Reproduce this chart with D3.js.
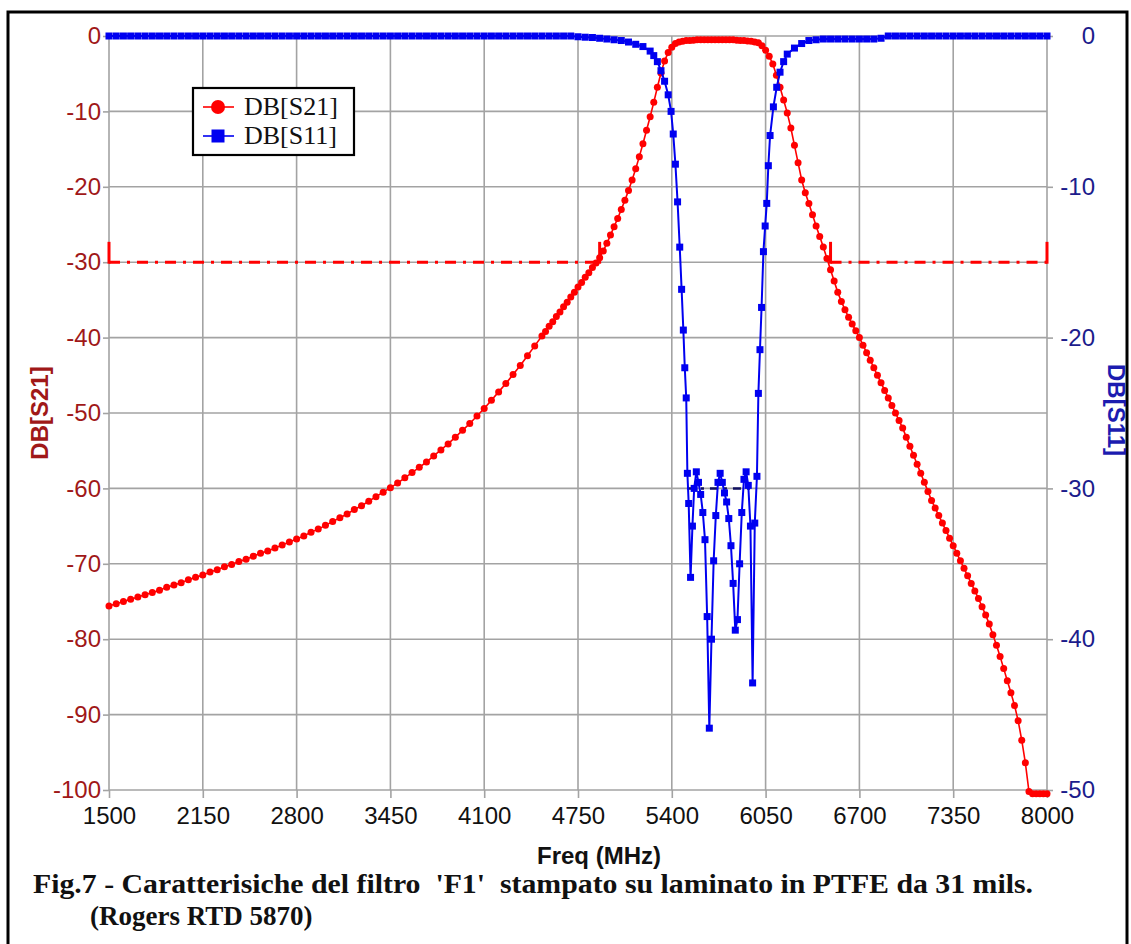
<!DOCTYPE html>
<html><head><meta charset="utf-8">
<script src="https://cdn.jsdelivr.net/npm/d3@7"></script>
<style>body{margin:0;background:#fff} svg{display:block}</style>
</head><body><svg id="c" width="1131" height="944"></svg>
<script>
// ---------- data ----------
const freqTicks = [1500,2150,2800,3450,4100,4750,5400,6050,6700,7350,8000];
const s21Ticks = [0,-10,-20,-30,-40,-50,-60,-70,-80,-90,-100];
const s11Ticks = [0,-10,-20,-30,-40,-50];

// S21 sweep: 1500-4500 every 50 MHz, 4525-8000 every 25 MHz
const s21Freq = d3.range(1500, 4501, 50).concat(d3.range(4525, 8001, 25));
const s21Db = [
 -75.6,-75.3,-75.0,-74.7,-74.4,-74.1,-73.8,-73.5,-73.1,-72.8,
 -72.5,-72.1,-71.8,-71.5,-71.1,-70.8,-70.4,-70.1,-69.7,-69.4,
 -69.0,-68.6,-68.3,-67.9,-67.5,-67.1,-66.7,-66.3,-65.8,-65.4,
 -64.9,-64.4,-63.9,-63.4,-62.8,-62.3,-61.7,-61.1,-60.5,-59.9,
 -59.3,-58.6,-57.9,-57.2,-56.5,-55.7,-54.9,-54.1,-53.2,-52.3,
 -51.4,-50.4,-49.4,-48.3,-47.2,-46.1,-44.9,-43.7,-42.4,-41.1,
 -39.8,
 -39.2,-38.5,-37.9,-37.2,-36.6,-35.9,-35.3,-34.6,-34.0,-33.3,
 -32.7,-32.0,-31.4,-30.7,-30.1,-29.4,-28.5,-27.5,-26.4,-25.3,
 -24.2,-23.0,-21.8,-20.5,-19.1,-17.6,-16.0,-14.3,-12.5,-10.7,
 -8.8,-6.8,-4.9,-3.3,-2.2,-1.5,-1.0,-0.8,-0.7,-0.6,
 -0.6,-0.55,-0.5,-0.5,-0.5,-0.5,-0.5,-0.5,-0.5,-0.5,
 -0.5,-0.5,-0.5,-0.55,-0.6,-0.6,-0.65,-0.7,-0.8,-0.9,
 -1.3,-1.9,-2.7,-3.7,-5.2,-6.8,-8.5,-10.2,-12.2,-14.5,
 -16.8,-19.1,-20.8,-22.2,-23.7,-25.2,-26.6,-28.0,-29.5,-31.0,
 -32.5,-34.0,-35.2,-36.3,-37.3,-38.2,-39.1,-40.0,-41.0,-42.0,
 -43.0,-44.0,-45.0,-46.0,-47.0,-48.0,-49.0,-50.0,-51.0,-52.0,
 -53.2,-54.4,-55.6,-56.8,-58.0,-59.2,-60.4,-61.6,-62.6,-63.6,
 -64.6,-65.6,-66.6,-67.6,-68.6,-69.6,-70.6,-71.6,-72.6,-73.6,
 -74.6,-75.7,-76.8,-78.0,-79.4,-80.8,-82.3,-83.9,-85.5,-87.1,
 -88.8,-90.8,-93.4,-96.4,-100.2,-100.5,-100.5,-100.5,-100.5,-100.5
];

// S11 sweep (adaptive near the passband)
const s11Freq = d3.range(1500, 4701, 50).concat([
 4750,4800,4850,4900,4950,5000,5050,5100,5150,5200,
 5250,5275,5300,5325,5350,5375,5395,5410,5425,5440,
 5455,5468,5480,5490,5500,5508,5517,5530,5543,5555,
 5570,5585,5600,5615,5630,5645,5660,5675,5690,5705,
 5720,5735,5750,5765,5780,5795,5810,5825,5840,5855,
 5870,5885,5900,5915,5930,5945,5960,5975,5990,6000,
 6011,6022,6035,6047,6058,6069,6081,6104,6127,6150,
 6175,6200,6250,6300,6350
]).concat(d3.range(6400, 8001, 50));
const s11Db = [
 0,0,0,0,0,0,0,0,0,0,0,0,0,
 0,0,0,0,0,0,0,0,0,0,0,0,0,
 0,0,0,0,0,0,0,0,0,0,0,0,0,
 0,0,0,0,0,0,0,0,0,0,0,0,0,
 0,0,0,0,0,0,0,0,0,0,0,0,0,
 -0.05,-0.08,-0.1,-0.15,-0.2,-0.25,-0.3,-0.4,-0.55,-0.7,
 -1.0,-1.3,-1.7,-2.3,-3.0,-3.9,-5.0,-6.5,-8.5,-11.0,
 -14.0,-16.8,-19.5,-22.0,-24.0,-29.0,-31.0,-35.9,-32.5,-30.0,
 -28.9,-29.6,-30.4,-31.6,-33.4,-38.5,-45.9,-40.0,-34.8,-31.8,
 -29.6,-29.0,-29.6,-30.3,-30.9,-32.0,-33.8,-36.3,-39.4,-38.7,
 -35.0,-31.6,-29.4,-28.9,-29.8,-32.5,-42.9,-32.3,-29.2,-23.7,
 -20.8,-18.0,-14.3,-12.6,-11.1,-8.6,-6.6,-4.7,-3.4,-2.4,
 -1.7,-1.2,-0.8,-0.5,-0.3,
 -0.25,-0.2,-0.2,-0.2,-0.2,-0.2,-0.2,-0.2,-0.2,-0.15,
 0,0,0,0,0,0,0,0,0,0,0,0,0,0,0,0,0,0,0,0,0,0,0
];

// Specification masks
const s21SpecBands = [[1500,4900],[6500,8000]];
const s21SpecLevel = -30;
const s21SpecCap = -27.3;
const s11SpecBands = [[5505,5990]];
const s11SpecLevel = -30;

if (s21Freq.length !== s21Db.length) console.error("S21 length", s21Freq.length, s21Db.length);
if (s11Freq.length !== s11Db.length) console.error("S11 length", s11Freq.length, s11Db.length);

// ---------- layout ----------
const svg = d3.select("#c");
const L = 109, R = 1047, T = 36, B = 790;
const x = d3.scaleLinear().domain([1500,8000]).range([L,R]);
const yL = d3.scaleLinear().domain([-100,0]).range([B,T]);
const yR = d3.scaleLinear().domain([-50,0]).range([B,T]);

const RED = "#ff0000", BLUE = "#0000f0";
const LCOL = "#a01818", RCOL = "#1c1c8c";
const GRID = "#a3a3a3";
const SANS = "'Liberation Sans', Arial, sans-serif";
const SERIF = "'Liberation Serif', 'Times New Roman', serif";

svg.append("rect").attr("width",1131).attr("height",944).attr("fill","#fff");
svg.append("rect").attr("x",8).attr("y",12).attr("width",1119).attr("height",950)
   .attr("fill","none").attr("stroke","#000").attr("stroke-width",3);

// grid
const grid = svg.append("g").attr("stroke",GRID).attr("stroke-width",1.6);
grid.selectAll("line.v").data(freqTicks).join("line").attr("class","v")
  .attr("x1",d=>x(d)).attr("x2",d=>x(d)).attr("y1",T).attr("y2",B);
grid.selectAll("line.h").data(s21Ticks).join("line").attr("class","h")
  .attr("x1",L).attr("x2",R).attr("y1",d=>yL(d)).attr("y2",d=>yL(d));

// axes
function styleAxis(g, color){
  g.select(".domain").remove();
  g.selectAll(".tick line").attr("stroke",GRID).attr("stroke-width",1.6);
  g.selectAll(".tick text").attr("fill",color).style("font-family",SANS).style("font-size","24px");
}
const minus = d => d3.format("d")(d).replace("\u2212","-");
const ax = svg.append("g").attr("transform",`translate(0,${B})`)
  .call(d3.axisBottom(x).tickValues(freqTicks).tickFormat(d3.format("d")).tickSize(8).tickPadding(9));
styleAxis(ax,"#111");
const ayl = svg.append("g").attr("transform",`translate(${L},0)`)
  .call(d3.axisLeft(yL).tickValues(s21Ticks).tickFormat(minus).tickSize(6).tickPadding(2));
styleAxis(ayl,LCOL);
const ayr = svg.append("g").attr("transform",`translate(${R},0)`)
  .call(d3.axisRight(yR).tickValues(s11Ticks).tickFormat(minus).tickSize(6).tickPadding(2));
styleAxis(ayr,RCOL);
ayr.selectAll(".tick text").attr("text-anchor","end").attr("x",48);

// spec masks
const spec = svg.append("g");
s21SpecBands.forEach(b=>{
  spec.append("line").attr("x1",x(b[0])).attr("x2",x(b[1])).attr("y1",yL(s21SpecLevel)).attr("y2",yL(s21SpecLevel))
    .attr("stroke",RED).attr("stroke-width",3).attr("stroke-dasharray","11,7,3,7");
  b.forEach(f=>spec.append("line").attr("x1",x(f)).attr("x2",x(f)).attr("y1",yL(s21SpecLevel)+1.5).attr("y2",yL(s21SpecCap))
    .attr("stroke",RED).attr("stroke-width",3));
});
s11SpecBands.forEach(b=>{
  spec.append("line").attr("x1",x(b[0])).attr("x2",x(b[1])).attr("y1",yR(s11SpecLevel)).attr("y2",yR(s11SpecLevel))
    .attr("stroke","#101060").attr("stroke-width",2.5).attr("stroke-dasharray","8,6,3,6");
});

// S21
const s21 = s21Freq.map((f,i)=>[f,s21Db[i]]);
svg.append("path").datum(s21).attr("fill","none").attr("stroke",RED).attr("stroke-width",1.6)
  .attr("d",d3.line().x(d=>x(d[0])).y(d=>yL(d[1])));
svg.append("g").selectAll("circle").data(s21).join("circle")
  .attr("cx",d=>x(d[0])).attr("cy",d=>yL(d[1])).attr("r",3.5).attr("fill",RED);

// S11
const s11 = s11Freq.map((f,i)=>[f,s11Db[i]]);
svg.append("path").datum(s11).attr("fill","none").attr("stroke",BLUE).attr("stroke-width",2)
  .attr("d",d3.line().x(d=>x(d[0])).y(d=>yR(d[1])));
const sq = 7;
svg.append("g").selectAll("rect").data(s11).join("rect")
  .attr("x",d=>x(d[0])-sq/2).attr("y",d=>yR(d[1])-sq/2).attr("width",sq).attr("height",sq).attr("fill",BLUE);

// legend
const lg = svg.append("g");
lg.append("rect").attr("x",193).attr("y",88).attr("width",161).attr("height",67)
  .attr("fill","#fff").attr("stroke","#000").attr("stroke-width",2.2);
lg.append("line").attr("x1",203).attr("x2",234).attr("y1",107).attr("y2",107).attr("stroke",RED).attr("stroke-width",1.6);
lg.append("circle").attr("cx",218).attr("cy",107).attr("r",7).attr("fill",RED);
lg.append("line").attr("x1",203).attr("x2",234).attr("y1",136).attr("y2",136).attr("stroke",BLUE).attr("stroke-width",1.6);
lg.append("rect").attr("x",211.5).attr("y",129.5).attr("width",13).attr("height",13).attr("fill",BLUE);
lg.append("text").attr("x",244).attr("y",115).text("DB[S21]")
  .style("font-family",SERIF).style("font-size","26px").attr("fill","#111");
lg.append("text").attr("x",244).attr("y",144).text("DB[S11]")
  .style("font-family",SERIF).style("font-size","26px").attr("fill","#111");

// axis titles
svg.append("text").attr("transform","translate(48,413) rotate(-90)").attr("text-anchor","middle")
  .text("DB[S21]").style("font-family",SANS).style("font-weight","bold").style("font-size","24px").attr("fill",LCOL);
svg.append("text").attr("transform","translate(1108,410) rotate(90)").attr("text-anchor","middle")
  .text("DB[S11]").style("font-family",SANS).style("font-weight","bold").style("font-size","24px").attr("fill","#1c1cb0");
svg.append("text").attr("x",599).attr("y",864).attr("text-anchor","middle")
  .text("Freq (MHz)").style("font-family",SANS).style("font-weight","bold").style("font-size","24px").attr("fill","#111");

// caption
svg.append("text").attr("x",33).attr("y",893).style("white-space","pre")
  .attr("textLength",1000).attr("lengthAdjust","spacingAndGlyphs")
  .text("Fig.7 - Caratterisiche del filtro  'F1'  stampato su laminato in PTFE da 31 mils.")
  .style("font-family",SERIF).style("font-weight","bold").style("font-size","27px").attr("fill","#111");
svg.append("text").attr("x",90).attr("y",925).style("white-space","pre")
  .text("(Rogers RTD 5870)")
  .style("font-family",SERIF).style("font-weight","bold").style("font-size","27px").attr("fill","#111");
</script>
</body></html>
